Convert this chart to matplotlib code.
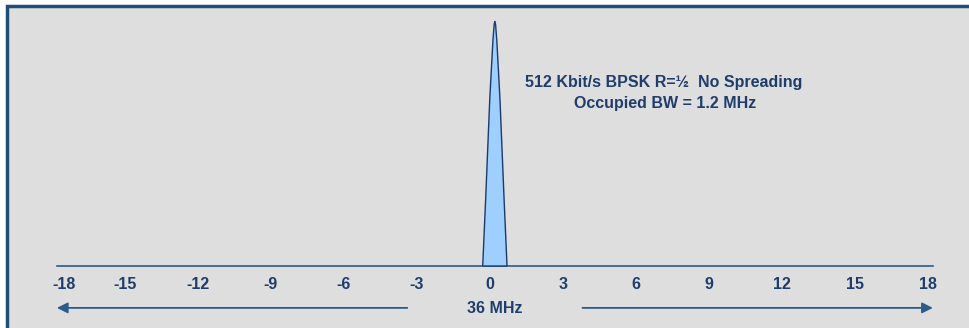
import numpy as np
import matplotlib
matplotlib.use("Agg")
from matplotlib import pyplot as plt
from matplotlib.patches import Rectangle

# spectrum lobe, MHz offsets (around the carrier) and normalised power
carrier = 0.2
lobe_f = [-0.5, -0.38, -0.21, -0.08, -0.03, 0.0, 0.03, 0.08, 0.21, 0.38, 0.5]
lobe_p = [0.0, 0.27, 0.68, 0.92, 0.985, 1.0, 0.985, 0.92, 0.68, 0.27, 0.0]

ticks = [-18, -15, -12, -9, -6, -3, 0, 3, 6, 9, 12, 15, 18]
label_1 = "512 Kbit/s BPSK R=\u00bd  No Spreading"
label_2 = "Occupied BW = 1.2 MHz"
span_label = "36 MHz"

navy = "#1f3d6b"
line_col = "#2e5a88"
W, H = 970, 328

plt.rcParams['font.family'] = ['Liberation Sans', 'DejaVu Sans']
fig = plt.figure(figsize=(W / 100, H / 100), dpi=100)
fig.patch.set_facecolor("white")

# panel background with frame on top/left
fig.patches.append(Rectangle((7 / W, -0.1), 1.2, 1.1 - 6.5 / H,
                             transform=fig.transFigure, facecolor="#dedede",
                             edgecolor="#1f4e79", linewidth=2.5, zorder=-1))

ax = fig.add_axes([0, 0, 1, 1])
ax.set_zorder(1)
ax.set_facecolor("none")
px = 73 / 3.0  # pixels per MHz
x0 = 490
ax.set_xlim(-x0 / px, (W - x0) / px)
ax.set_ylim(-(H - 266) / 245, 266 / 245)
ax.axis("off")

# baseline
ax.plot([-17.8, 18.2], [0, 0], color=line_col, lw=1.2, zorder=2)

# lobe
ax.fill(np.array(lobe_f) + carrier, lobe_p, facecolor="#9ecfff",
        edgecolor="#1a3a6a", lw=1.0, zorder=3)

fs = 11.5
for i, t in enumerate(ticks):
    ax.text(t, -0.077, str(t), ha="left" if i == 0 else "center", va="center",
            fontsize=fs, fontweight="bold", color=navy)

ax.text(carrier, -0.175, span_label, ha="center", va="center", fontsize=fs,
        fontweight="bold", color=navy)

arrow = dict(arrowstyle="-|>", color=line_col, lw=1.3, mutation_scale=16,
             shrinkA=0, shrinkB=0)
ax.annotate("", xy=(-17.8, -0.171), xytext=(-3.4, -0.171), arrowprops=arrow)
ax.annotate("", xy=(18.2, -0.171), xytext=(3.8, -0.171), arrowprops=arrow)

ax.text(7.15, 0.747, label_1, ha="center", va="center", fontsize=fs,
        fontweight="bold", color=navy)
ax.text(7.2, 0.665, label_2, ha="center", va="center", fontsize=fs,
        fontweight="bold", color=navy)

fig.savefig("out.png", dpi=100)
